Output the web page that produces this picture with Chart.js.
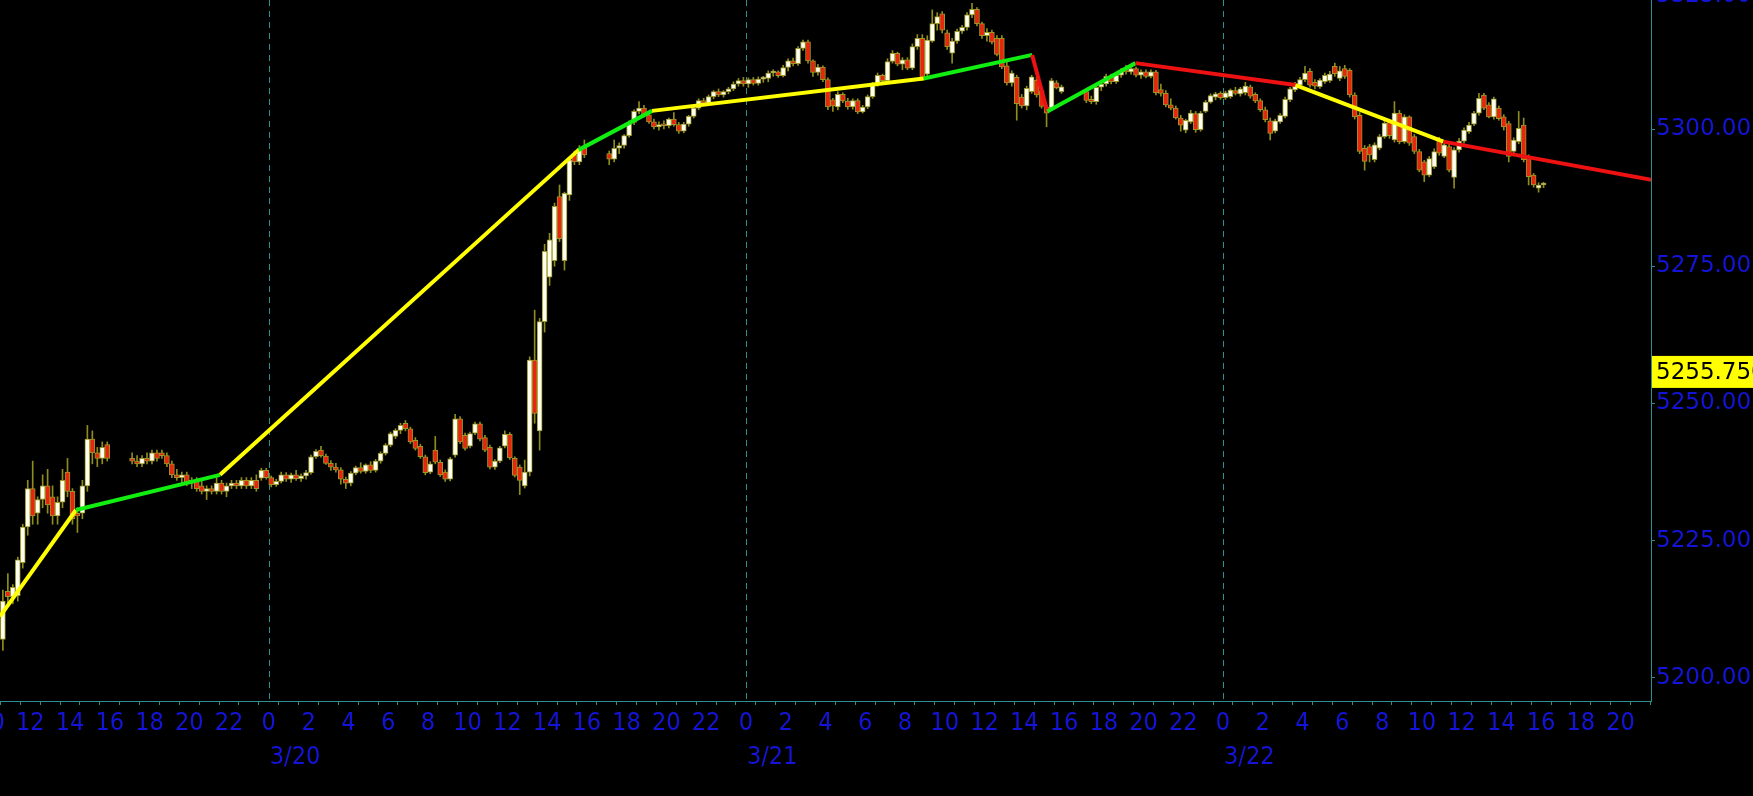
<!DOCTYPE html>
<html><head><meta charset="utf-8">
<script src="https://cdn.jsdelivr.net/npm/chart.js@4.4.1/dist/chart.umd.min.js"></script>
<style>html,body{margin:0;padding:0;background:#000;overflow:hidden}canvas{display:block}</style>
</head><body>
<canvas id="c" width="1753" height="796"></canvas>
<script>
// ---- DATA (hours counted from 3/19 00:00; 15-minute candles [open, high, low, close]) ----
const sessionStarts = [10.5, 17, 41, 65];
const session1 = [
[5207,5216,5205,5214],[5215.8,5219,5213,5214.8],[5214.8,5217,5213.5,5216.5],[5215,5222,5214,5221.5],
[5221,5228,5220,5227.5],[5227.5,5236,5226,5234.5],[5234.5,5239.5,5228,5229.5],[5230,5233,5228,5232.5],
[5232.5,5237,5231,5235],[5235,5238,5230,5231.5],[5233,5235,5228,5229.5],[5229.5,5233,5228,5232],
[5232,5238,5231,5236],[5237.5,5240,5233,5234],[5234,5234.5,5228,5229],[5230,5231,5226.5,5229.5],
[5230,5236,5229,5235],[5235,5246,5234,5243.5],[5243.5,5245,5239,5241],[5241,5242,5238.5,5240],
[5240,5243,5239,5242],[5242.5,5243,5239.5,5240]];
const session2 = [
[5240,5241,5239,5239.5],[5239.5,5240.5,5238.5,5239],[5239,5240.5,5238.5,5240],[5240,5241,5239,5239.5],
[5239.5,5241.5,5239,5241],[5241,5241.5,5239.5,5240],[5241,5241.5,5240,5240.5],[5240.5,5241,5238.5,5239],
[5239,5239.5,5236.5,5237],[5237,5238,5236,5236.5],[5236.5,5237.5,5235.5,5237],[5237,5237.5,5235,5235.5],
[5235.5,5236.5,5234.5,5236],[5236,5236.5,5234,5234.5],[5235,5236,5233.5,5234],[5234,5235,5232.5,5234.5],
[5234.5,5235,5233.5,5234],[5234,5237,5233.5,5235.5],[5235.5,5236,5233.5,5234],[5234,5235.5,5233,5235],
[5235,5236,5234.5,5235.5],[5235.5,5236,5234.5,5235],[5235,5236.5,5234.5,5236],[5236,5236.5,5234.5,5235],
[5235,5236.5,5234.5,5236],[5236,5237,5234,5234.5],[5236.4,5238.2,5236,5237.8],[5237.8,5238.2,5236.2,5236.5],
[5236.5,5236.8,5234.8,5235.2],[5235.2,5236.2,5234.9,5235.8],[5235.8,5237.5,5235.5,5237],[5237,5237.4,5235.8,5236.2],
[5236.2,5237.3,5235.6,5237],[5237,5237.8,5236,5236.3],[5236.3,5237.2,5235.8,5236.8],[5236.8,5237.8,5236.2,5237.4],
[5237.4,5240.6,5237.1,5240.3],[5240.3,5241.6,5240,5241.3],[5241.5,5242.2,5240.2,5240.5],[5240.4,5240.8,5238.9,5239.1],
[5239.1,5239.6,5237.8,5238.4],[5238.4,5239.1,5237.5,5237.9],[5237.9,5238.3,5235.3,5236.2],[5236.2,5236.6,5234.5,5235.5],
[5235.5,5237.6,5235,5237.3],[5237.3,5238.6,5237,5238.3],[5238.3,5239.2,5237.3,5237.6],[5237.6,5239,5237.3,5238.8],
[5238.8,5239.4,5237.4,5237.8],[5237.8,5239.8,5237.5,5239.5],[5239.5,5241.2,5239.1,5240.9],[5240.9,5242.7,5240.6,5242.4],
[5242.4,5244.8,5242.1,5244.5],[5244,5245.4,5243.6,5245.1],[5245.1,5246.4,5244.5,5246],[5246.4,5246.9,5245,5245.4],
[5245.4,5245.7,5242.7,5243],[5243.3,5243.8,5241.5,5241.8],[5242.2,5242.6,5240,5240.3],[5240.3,5240.6,5237,5237.4],
[5237.5,5239.4,5237.2,5239],[5241.5,5244,5239,5239.3],[5239.3,5239.7,5236.7,5237],[5237.5,5237.9,5235.8,5236.2],
[5236.2,5240.2,5235.9,5239.9],[5240.6,5248,5240.2,5247.2],[5247.2,5247.6,5242.7,5243],[5244.2,5244.6,5241.5,5241.8],
[5242.2,5244.8,5241.9,5244.5],[5244.6,5246.6,5244.3,5246.3],[5246.3,5246.6,5243.2,5243.5],[5243.8,5244.2,5241.2,5241.5],
[5242,5242.4,5238.1,5238.4],[5238.4,5239.8,5238,5239.5],[5239.5,5242.2,5239.2,5241.9],[5242.2,5245,5241.9,5244.4],
[5244.4,5244.7,5239.8,5240.1],[5240,5240.3,5236.6,5236.9],[5238.4,5238.8,5233.4,5236],[5235,5239.7,5234.6,5237.5],
[5237.5,5258.5,5236.8,5257.9],[5257.9,5267,5246.4,5248.2],[5245,5265.5,5241.5,5264.9],[5264.9,5279,5263,5277.7],
[5273,5281,5271.5,5279.8],[5276,5286.5,5275,5285.9],[5287.7,5289.8,5279.5,5280],[5276,5288.5,5274.3,5288.3],
[5288,5294.8,5287,5294.4],[5295.3,5296,5293.5,5294],[5294,5297,5293.5,5296.5],[5296.5,5298,5294.8,5295.3]];
const session3 = [
[5295.5,5296,5293.5,5294.5],[5294.5,5298,5294,5296.5],[5296.5,5297.5,5295.5,5297],[5297,5299,5296.5,5298.8],
[5298.8,5301.5,5298.5,5301.2],[5301.2,5303.5,5300.8,5303.2],[5303.2,5305,5302.8,5303.8],[5303.8,5304.3,5302.2,5302.6],
[5302.6,5303.2,5301,5301.3],[5301.3,5301.8,5300,5300.4],[5300.4,5301.3,5299.8,5300.8],[5300.8,5301.5,5300,5300.6],
[5300.6,5302,5300.2,5301.8],[5301.8,5303,5300.5,5300.8],[5300.8,5301.2,5299.2,5299.6],[5299.6,5301.2,5299.3,5300.9],
[5300.9,5302.5,5300.5,5302.3],[5302.3,5304,5302,5303.8],[5303.8,5305.5,5303.5,5305.2],[5305.2,5305.6,5304.3,5304.7],
[5304.7,5306.2,5304.5,5305.9],[5305.9,5307,5305.5,5306.8],[5306.8,5307.3,5305.9,5306.2],[5306.2,5307,5305.8,5306.8],
[5306.8,5307.6,5306.4,5307.3],[5307.3,5308.6,5307,5308.2],[5308.2,5309.2,5307.8,5308.8],[5308.8,5309.4,5307.8,5308.2],
[5308.2,5309.3,5307.6,5309],[5309,5309.4,5308,5308.3],[5308.3,5309.5,5308,5309.1],[5309.1,5309.6,5308.5,5309.2],
[5309.2,5310.6,5308.6,5310.2],[5310.2,5310.8,5309.6,5310.4],[5310.4,5310.6,5309.4,5309.7],[5309.7,5311.6,5309.5,5311.2],
[5311.2,5312.8,5310.6,5312.4],[5312.4,5312.9,5311.5,5311.9],[5311.9,5315,5311.6,5314.7],[5314.7,5316.2,5314.3,5315.9],
[5315.9,5316.2,5312,5312.4],[5312.4,5312.6,5309.6,5310.3],[5310.3,5311.8,5309.8,5311.3],[5311.3,5311.5,5308.6,5309],
[5309,5309.3,5303.5,5304],[5305.3,5305.6,5303.2,5304.2],[5304,5306.8,5303.5,5306.3],[5306.3,5306.6,5304.8,5305.1],
[5305.1,5305.6,5303.6,5304],[5304,5305.5,5303.6,5305.2],[5305.2,5305.5,5302.8,5303.1],[5303.1,5304.3,5302.9,5304],
[5304,5306.2,5303.7,5305.9],[5305.9,5308.5,5305.6,5308.2],[5308.2,5310.2,5307.8,5309.8],[5309.8,5310,5308.5,5308.8],
[5308.8,5312.8,5308.4,5312.3],[5312.3,5314.3,5312,5313.8],[5313.8,5314,5311.5,5311.8],[5311.8,5313,5310.8,5312.6],
[5312.6,5313,5310.8,5311.1],[5311.1,5315.5,5310.8,5315],[5315,5317.2,5314.5,5316.5],[5316.5,5317.2,5309,5309.4],
[5310,5317,5309.5,5316.2],[5316,5321.7,5315.8,5319.2],[5319.2,5321.2,5318,5320.5],[5321,5321.4,5317.5,5318],
[5317.5,5318,5314.5,5315],[5313.8,5316.5,5312,5316],[5316,5318.2,5315.6,5317.8],[5317.8,5318.9,5317.4,5318.5],
[5318.5,5321.2,5318,5320.8],[5320.8,5322.9,5320.3,5321.8],[5321.8,5322.1,5318.8,5319.2],[5319.2,5319.5,5316.5,5317],
[5317,5318.3,5316,5317.6],[5317.6,5318,5315.5,5315.8],[5316.5,5317,5313.3,5313.6],[5316.5,5317,5311,5311.3],
[5311.5,5312.2,5308,5308.4],[5308.4,5310.6,5307.8,5310.2],[5309.4,5309.8,5301.6,5304.6],[5305.8,5306.3,5303.8,5304.2],
[5304.2,5307.8,5303.5,5307.4],[5306.8,5309.8,5306.5,5309.5],[5308.9,5309.4,5305.8,5306.2],[5307,5307.4,5303.8,5304.1],
[5304,5304.4,5300.4,5302.9],[5303.8,5309.2,5303.5,5308.8],[5308.4,5308.8,5307.3,5307.5],[5306.8,5308,5306.5,5307.7]];
const session4 = [
[5306.8,5307.2,5304.8,5305.2],[5305.4,5306,5304.6,5305],[5305,5308,5304.5,5307.6],[5307.6,5308.5,5307,5308.2],
[5308.2,5310,5307.8,5309.6],[5309.6,5310,5308.2,5308.6],[5308.6,5310.2,5308.3,5309.8],[5309.8,5311,5309.4,5310.7],
[5310.7,5311.6,5310,5310.4],[5310.4,5311.4,5310,5311],[5311,5311.3,5309.5,5309.8],[5309.8,5310.8,5309.2,5310.4],
[5310.4,5310.8,5309.3,5309.6],[5309.6,5310.8,5309.3,5310.4],[5310.4,5310.7,5306.2,5306.6],[5307.2,5308.2,5306,5306.5],
[5306.5,5307,5304,5304.4],[5304.4,5305.5,5303.5,5303.8],[5303.8,5304.2,5301.8,5302],[5302,5302.5,5299.6,5300.7],
[5299.8,5301.8,5299.3,5301.6],[5301.3,5303.4,5301,5302.9],[5302.8,5303.2,5299.4,5299.9],[5299.9,5303.2,5299.6,5302.9],
[5303.2,5305.2,5303,5304.9],[5304.9,5306.4,5304.7,5306.1],[5305.8,5306.7,5305.3,5306.4],[5306.5,5306.8,5305.4,5305.7],
[5305.7,5306.9,5305.4,5306.6],[5305.9,5307.3,5305.6,5307.1],[5307,5307.6,5306.2,5306.5],[5306.4,5307.6,5306,5307.3],
[5306.6,5308.5,5306.2,5307.8],[5307.7,5308,5305.6,5306],[5306.3,5306.6,5304.8,5305.1],[5305.2,5305.5,5303.2,5303.5],
[5303.5,5304,5301.3,5301.7],[5301.5,5302,5298,5299.2],[5299.6,5301.8,5299.3,5301.5],[5301.3,5302.8,5301,5302.5],
[5302.3,5305.8,5302,5305.4],[5305.3,5307.6,5305,5307.3],[5307.1,5308.5,5306.8,5308.2],[5308,5309.4,5307.6,5309],
[5309,5311.4,5308.6,5310.2],[5310.5,5311,5307.6,5308],[5308.5,5309,5307.3,5307.8],[5307.7,5309.2,5307.4,5308.9],
[5308.6,5310.2,5308.3,5309.8],[5308.8,5310.5,5308.5,5310],[5311.4,5312,5309.6,5310.1],[5309.2,5311.4,5308.8,5310.6],
[5311,5311.6,5309.2,5309.6],[5310.7,5311,5305.8,5306.2],[5306.2,5306.6,5301.8,5302.2],[5302.5,5303,5295.5,5295.9],
[5296.5,5297,5292.5,5294.1],[5296.8,5297.2,5294,5295.3],[5294.4,5297.5,5294,5297.1],[5296.5,5299,5296.2,5298.6],
[5298.6,5301.6,5298.3,5301.1],[5301.3,5301.8,5298.3,5298.8],[5298,5305,5297.6,5302.9],[5302.9,5303.4,5297.3,5297.7],
[5297.7,5302.6,5297.4,5302.2],[5302.2,5302.4,5297,5297.4],[5298.6,5299,5295.5,5295.9],[5295.9,5296.3,5292.2,5292.5],
[5294,5294.3,5290.4,5291.6],[5291.6,5295,5291.3,5294.6],[5293.1,5296.4,5292.8,5295.9],[5298,5298.5,5295.2,5295.6],
[5295,5297.4,5294.8,5297.1],[5296.8,5297.2,5292.2,5292.5],[5291.2,5296.6,5289.2,5296.2],[5296.2,5298.3,5295.8,5297.8],
[5297.8,5300.2,5297.4,5299.8],[5299.5,5301.2,5299.2,5300.7],[5300.9,5303.2,5300.6,5302.9],[5302.9,5306.5,5302.5,5305.6],
[5306.2,5306.5,5303.5,5303.8],[5304.4,5304.8,5302,5302.2],[5302.2,5305.8,5301.8,5305.5],[5303.8,5304.2,5301.6,5301.9],
[5302.2,5302.6,5299.8,5300.4],[5301,5301.4,5294,5295],[5295.9,5298.4,5295.2,5298],[5297.7,5303.2,5297.3,5300.1],
[5300.7,5302,5294,5294.4],[5295,5295.3,5289.8,5291.3],[5291.6,5291.9,5289.4,5289.8],[5289.2,5290.2,5288.5,5289.8],
[5289.8,5290.3,5289.3,5290]];
const zigzagTimes  = [10.48, 14.30, 21.55, 39.59, 43.28, 56.95, 62.40, 63.16, 67.60, 75.65, 83.09, 93.60];
const zigzagPrices = [5211.2, 5230.6, 5237.0, 5296.2, 5303.3, 5309.2, 5313.5, 5303.2, 5312.0, 5308.0, 5297.7, 5290.7];
const zigzagState  = ['neutral','up','neutral','up','neutral','up','down','up','down','neutral','down'];
const priceTicks = [5200, 5225, 5250, 5275, 5300];
const topPriceTick = 5325;
const dayBoundaries = [24, 48, 72];
const dayLabels = ['3/20', '3/21', '3/22'];
const lastPrice = 5255.75;

// ---- STYLE ----
const BLUE = '#1414d8', TEAL = '#2f8f8f', OLIVE = '#9c9828', WICK = '#8e8c1c';
const UP = '#fffff0', DOWN = '#e8250e';
const STATE_COLORS = {neutral: '#ffff00', up: '#11ee11', down: '#ee1111'};
const X_MIN = 10.48, X_MAX = 93.53, Y_MIN = 5195.8, Y_MAX = 5323.5;
const HOUR_FONT = {family: "'DejaVu Sans Condensed', 'Liberation Sans Narrow', sans-serif", size: 25};
const PRICE_FONT = {family: "'DejaVu Sans', sans-serif", size: 23};

const bodies = [], wicks = [], bodyFill = [];
[session1, session2, session3, session4].forEach((s, si) => s.forEach((c, i) => {
  const t = sessionStarts[si] + 0.25 * i + 0.125;
  bodies.push({x: t, y: [c[0], c[3]]});
  wicks.push({x: t, y: [c[2], c[1]]});
  bodyFill.push(c[3] >= c[0] ? UP : DOWN);
}));
const zigzag = zigzagTimes.map((t, i) => ({x: t, y: zigzagPrices[i]}));
const hourTicks = [];
for (let h = 10; h <= 93; h++) hourTicks.push(h);

const extras = {
  id: 'extras',
  beforeDatasetsDraw(chart) {
    const {ctx, chartArea: a, scales: {x}} = chart;
    ctx.save();
    ctx.strokeStyle = TEAL; ctx.lineWidth = 1; ctx.setLineDash([6, 5]);
    dayBoundaries.forEach(d => {
      const px = Math.round(x.getPixelForValue(d)) + 0.5;
      ctx.beginPath(); ctx.moveTo(px, a.top); ctx.lineTo(px, a.bottom); ctx.stroke();
    });
    ctx.restore();
  },
  afterDraw(chart) {
    const {ctx, chartArea: a, scales: {x, y}} = chart;
    ctx.save();
    ctx.fillStyle = BLUE; ctx.textAlign = 'left'; ctx.textBaseline = 'middle';
    ctx.font = HOUR_FONT.size + 'px ' + HOUR_FONT.family;
    dayBoundaries.forEach((d, i) => ctx.fillText(dayLabels[i], x.getPixelForValue(d) + 1, 757));
    ctx.font = PRICE_FONT.size + 'px ' + PRICE_FONT.family;
    ctx.fillText(topPriceTick.toFixed(2), a.right + 5, y.getPixelForValue(topPriceTick) + 4);
    const py = y.getPixelForValue(lastPrice);
    ctx.fillStyle = '#ffff00';
    ctx.fillRect(a.right + 1, py - 16, chart.width - a.right - 1, 32);
    ctx.fillStyle = '#000';
    ctx.fillText(lastPrice.toFixed(2) + '0', a.right + 5, py + 1);
    ctx.restore();
  }
};

new Chart(document.getElementById('c'), {
  type: 'bar',
  data: {datasets: [
    {type: 'line', data: zigzag, borderWidth: 4, pointRadius: 0, tension: 0, clip: 0, order: 0,
     borderColor: STATE_COLORS.neutral,
     segment: {borderColor: c => STATE_COLORS[zigzagState[c.p0DataIndex]]}},
    {type: 'bar', data: bodies, backgroundColor: bodyFill, borderColor: OLIVE, borderWidth: 1,
     borderSkipped: false, barThickness: 5, grouped: false, minBarLength: 2, order: 1},
    {type: 'bar', data: wicks, backgroundColor: WICK, borderWidth: 0, barThickness: 1,
     grouped: false, order: 2}
  ]},
  options: {
    responsive: false, animation: false, devicePixelRatio: 1,
    layout: {padding: 0},
    plugins: {legend: {display: false}, tooltip: {enabled: false}},
    scales: {
      x: {
        type: 'linear', position: 'bottom', min: X_MIN, max: X_MAX, offset: false,
        afterBuildTicks: s => { s.ticks = hourTicks.map(v => ({value: v})); },
        afterFit: s => { s.height = 95; s.paddingLeft = 0; s.paddingRight = 0; },
        grid: {drawOnChartArea: false, color: TEAL, tickLength: 4},
        border: {color: TEAL, width: 1},
        ticks: {autoSkip: false, maxRotation: 0, padding: 3, color: BLUE, font: HOUR_FONT,
          callback: v => (v % 2 === 0 ? String(v % 24) : '')}
      },
      y: {
        type: 'linear', position: 'right', min: Y_MIN, max: Y_MAX,
        afterBuildTicks: s => { s.ticks = priceTicks.map(v => ({value: v})); },
        afterFit: s => { s.width = 102; s.paddingTop = 0; s.paddingBottom = 0; },
        grid: {drawOnChartArea: false, color: TEAL, tickLength: 4},
        border: {color: TEAL, width: 1},
        ticks: {padding: 1, color: BLUE, font: PRICE_FONT, callback: v => Number(v).toFixed(2)}
      }
    }
  },
  plugins: [extras]
});
</script>
</body></html>
